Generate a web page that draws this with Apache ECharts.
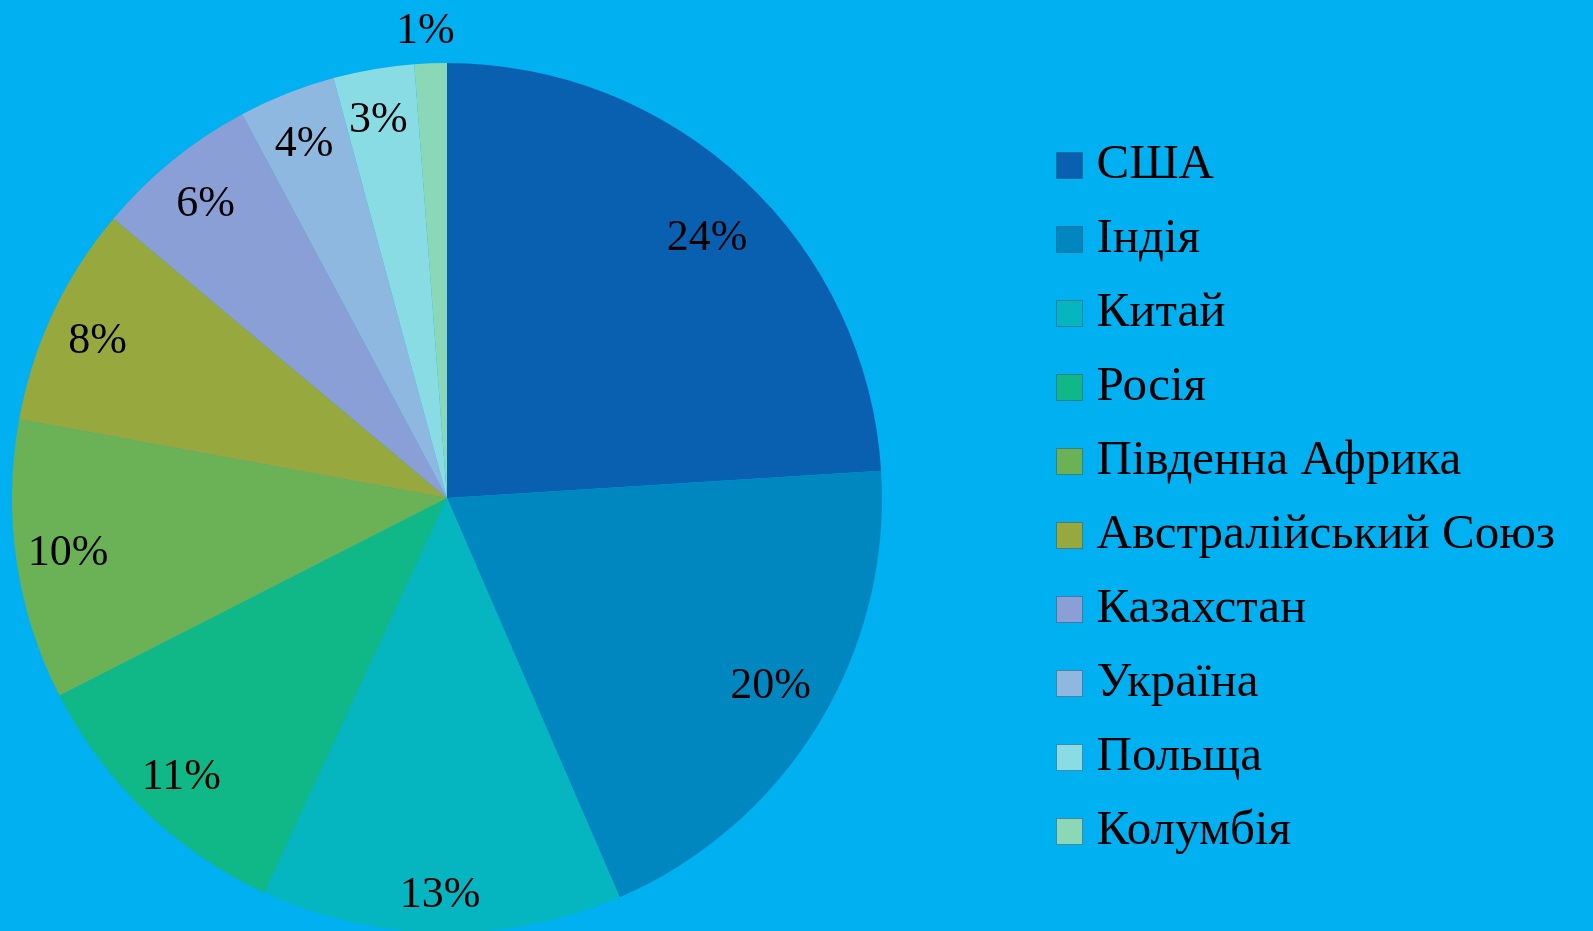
<!DOCTYPE html>
<html>
<head>
<meta charset="utf-8">
<script src="https://cdn.jsdelivr.net/npm/echarts@6/dist/echarts.min.js"></script>
<style>
html,body{margin:0;padding:0;background:#00B0F0;}
#c{width:1593px;height:931px;}
</style>
</head>
<body>
<div id="c"></div>
<script>
const categories = ['США','Індія','Китай','Росія','Південна Африка','Австралійський Союз','Казахстан','Україна','Польща','Колумбія'];
const values = [24.0, 19.5, 13.4, 10.6, 10.4, 8.2, 6.1, 3.6, 3.0, 1.2];
const colors = ['#0A60B0','#0087C0','#05B5C0','#0FB886','#6AB255','#96A83E','#8A9FD6','#8FB8E0','#8ADCE4','#8AD8B8'];

const FONT = '"Liberation Serif", "DejaVu Serif", serif';
const chart = echarts.init(document.getElementById('c'));
const last = categories.length - 1;
// small label nudges (style only) to mimic the original label placement
const labelNudge = [[-2, 20], [-3, -12], [-2, 14], [0, 4], [0, 0], [-3, 7], [0, 4], [-2, 3], [-4, 0], [-4, 0]];
const dataMain = categories.map((n, i) => ({ name: n, value: values[i] }));
const dataLabel = categories.map((n, i) => ({
  name: n, value: values[i],
  label: i === last ? { show: false } : { offset: labelNudge[i] }
}));
const dataOuter = categories.map((n, i) => ({
  name: n, value: values[i],
  label: { show: i === last, offset: labelNudge[i] }
}));
const fmt = p => Math.round(p.percent) + '%';
chart.setOption({
  backgroundColor: '#00B0F0',
  color: colors,
  animation: false,
  legend: {
    orient: 'vertical',
    left: 1051,
    top: 136,
    itemWidth: 26,
    itemHeight: 26,
    itemGap: 25,
    icon: 'rect',
    itemStyle: { borderColor: 'rgba(60,80,100,0.5)', borderWidth: 1 },
    textStyle: { fontFamily: FONT, fontSize: 49, color: '#000', lineHeight: 48, padding: [0,0,0,9] },
    data: categories
  },
  series: [
    {
      type: 'pie',
      center: [447, 498],
      radius: [0, 435],
      startAngle: 90,
      clockwise: true,
      silent: true,
      label: { show: false },
      labelLine: { show: false },
      itemStyle: { borderWidth: 0 },
      data: dataMain
    },
    {
      type: 'pie',
      center: [447, 498],
      radius: [316, 444],
      startAngle: 90,
      clockwise: true,
      silent: true,
      itemStyle: { color: 'rgba(0,0,0,0)' },
      label: {
        show: true, position: 'inside',
        formatter: fmt,
        fontFamily: FONT, fontSize: 44, color: '#000'
      },
      labelLine: { show: false },
      data: dataLabel
    },
    {
      type: 'pie',
      center: [447, 498],
      radius: [444, 484],
      startAngle: 90,
      clockwise: true,
      silent: true,
      itemStyle: { color: 'rgba(0,0,0,0)' },
      label: {
        position: 'inside',
        formatter: fmt,
        fontFamily: FONT, fontSize: 44, color: '#000'
      },
      labelLine: { show: false },
      data: dataOuter
    }
  ]
});
</script>
</body>
</html>
